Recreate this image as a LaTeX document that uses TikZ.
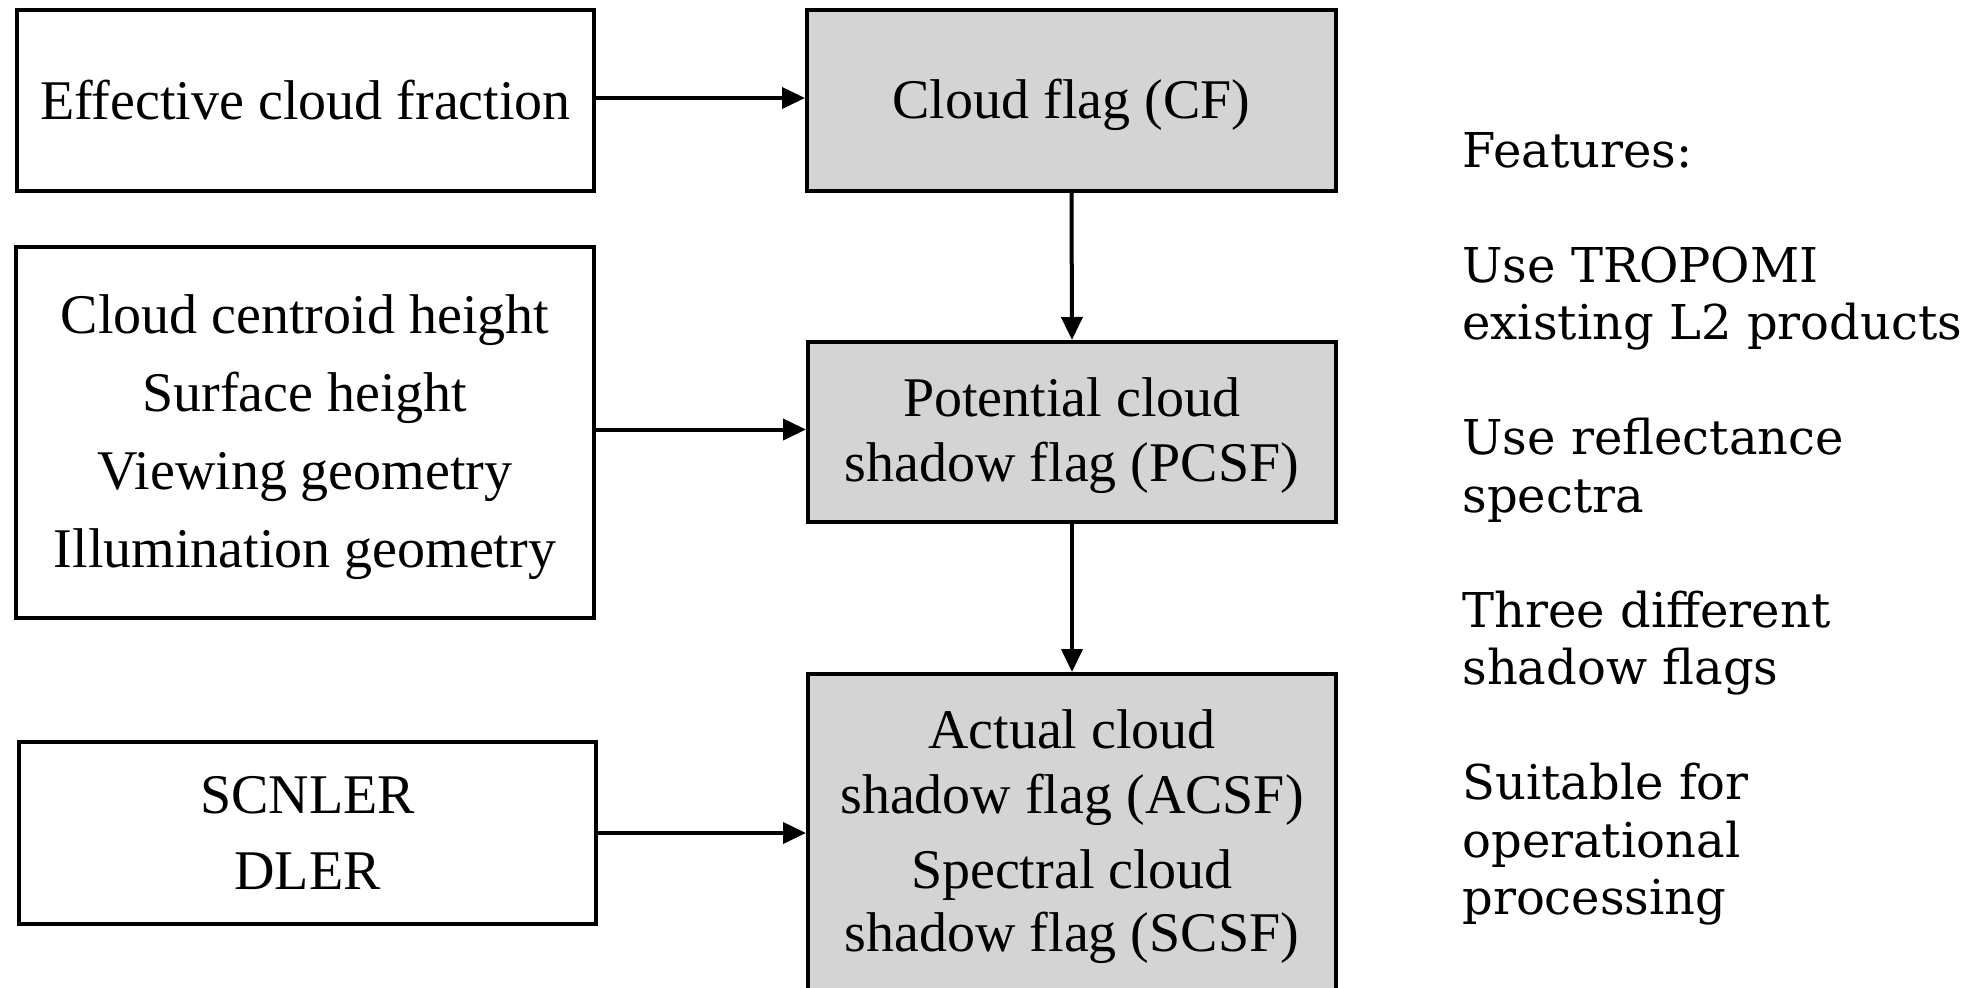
\documentclass[tikz,border=0pt]{standalone}
\usepackage{fontspec}
\setmainfont{Liberation Serif}
\newfontfamily\featfont{DejaVu Serif}
\usetikzlibrary{arrows.meta}
\definecolor{boxgray}{RGB}{212,212,212}
\newcommand{\lowertext}[3]{\raisebox{-#1}[\height][\depth]{\parbox{#2}{\centering #3}}}
\tikzset{
  inbox/.style={draw=black, line width=2pt, fill=white, inner sep=0pt, align=center,
    font=\fontsize{28}{32.5}\selectfont},
  flagbox/.style={inbox, fill=boxgray},
  arr/.style={line width=2pt, -{Triangle[length=11.5pt,width=10.5pt]}},
}
\begin{document}
\begin{tikzpicture}[x=0.5pt,y=-0.5pt]
\path[use as bounding box] (0,0) rectangle (1988,987);
\clip (0,0) rectangle (1988,987);
\fill[white] (0,0) rectangle (1988,987);
\node[inbox, minimum width=288.5pt, minimum height=90.5pt] (b1) at (305.5,100.5) {Effective cloud fraction};
\node[inbox, minimum width=289pt, minimum height=185.5pt, font=\fontsize{28}{39}\selectfont] (b2) at (305,432.5)
  {\lowertext{2.5pt}{260pt}{Cloud centroid height\\Surface height\\Viewing geometry\\Illumination geometry}};
\node[inbox, minimum width=288.5pt, minimum height=91pt, font=\fontsize{28}{37.75}\selectfont] (b3) at (307.5,833) {SCNLER\\DLER};
\node[flagbox, minimum width=264.5pt, minimum height=90.5pt] (cf) at (1071.5,100.5) {\raisebox{-2pt}[\height][\depth]{Cloud flag (CF)}};
\node[flagbox, minimum width=264pt, minimum height=90pt] (pcsf) at (1072,432) {\lowertext{2pt}{250pt}{Potential cloud\\shadow flag (PCSF)}};
\node[flagbox, minimum width=264pt, minimum height=162.5pt] (acsf) at (1072,836.5)
  {\lowertext{0pt}{250pt}{Actual cloud\\shadow flag (ACSF)\\[5pt]Spectral cloud\\[-1pt]shadow flag (SCSF)}};
\draw[arr] ([yshift=1.25pt]b1.east) -- ([yshift=1.25pt]cf.west);
\draw[arr] ([yshift=1.5pt]b2.east) -- ([yshift=1.5pt]b2.east -| pcsf.west);
\draw[arr] (b3.east) -- (b3.east -| acsf.west);
\draw[arr] (cf.south) -- (pcsf.north);
\draw[arr] (pcsf.south) -- (acsf.north);
\node[anchor=north west, inner sep=0pt, align=left, font=\featfont\fontsize{24}{28.75}\selectfont] (feat) at (1462,132)
  {Features:\\[28.75pt]Use TROPOMI\\existing L2 products\\[28.75pt]Use reflectance\\spectra\\[28.75pt]Three different\\shadow flags\\[28.75pt]Suitable for\\operational\\processing};
\end{tikzpicture}
\end{document}
